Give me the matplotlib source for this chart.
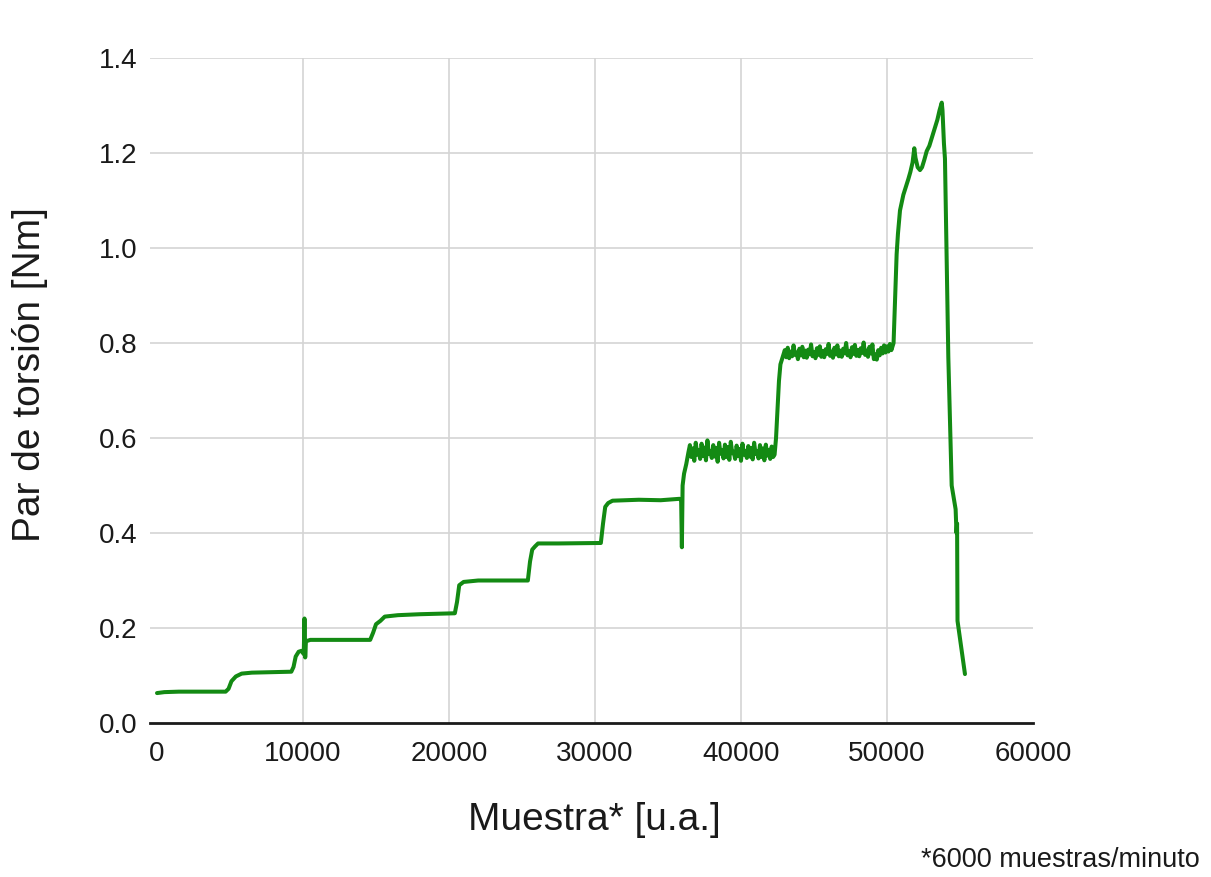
import numpy as np
import matplotlib
matplotlib.use("Agg")
import matplotlib.pyplot as plt

plt.rcParams['font.family'] = ['Liberation Sans', 'DejaVu Sans']

# ---- data ----
# stepped part, explicit (sample, torque) pairs
steps_x = [0, 500, 1500, 3000, 4700, 4900, 5100, 5400, 5800, 6500, 8000, 9200,
           9350, 9500, 9700, 9900, 10050, 10100, 10150, 10200, 10500, 12000, 14600,
           14800, 15000, 15300, 15600, 16500, 18000, 20400, 20550, 20700, 21000,
           22000, 24000, 25400, 25550, 25700, 25900, 26100, 27500, 30400, 30550,
           30700, 30900, 31200, 33000, 34500, 35800, 35900, 35950, 36000, 36100,
           36250, 36400]
steps_y = [0.063, 0.065, 0.066, 0.066, 0.066, 0.072, 0.088, 0.098, 0.104, 0.106, 0.107, 0.108,
           0.118, 0.140, 0.150, 0.152, 0.145, 0.220, 0.138, 0.172, 0.175, 0.175, 0.175,
           0.190, 0.208, 0.215, 0.224, 0.227, 0.229, 0.231, 0.255, 0.290, 0.297,
           0.300, 0.300, 0.300, 0.340, 0.365, 0.372, 0.378, 0.378, 0.379, 0.420,
           0.455, 0.463, 0.468, 0.470, 0.469, 0.472, 0.470, 0.370, 0.500, 0.525,
           0.545, 0.570]

# noisy plateau ~0.57 (one value every 100 samples from 36500)
plateau1_start = 36500
plateau1_y = [0.585, 0.560, 0.578, 0.552, 0.590, 0.565, 0.575, 0.556, 0.588, 0.562,
              0.580, 0.553, 0.595, 0.566, 0.572, 0.558, 0.585, 0.561, 0.579, 0.550,
              0.590, 0.567, 0.574, 0.557, 0.586, 0.560, 0.581, 0.554, 0.592, 0.568,
              0.571, 0.556, 0.584, 0.562, 0.577, 0.552, 0.588, 0.565, 0.573, 0.558,
              0.583, 0.561, 0.579, 0.555, 0.590, 0.566, 0.572, 0.557, 0.585, 0.560,
              0.578, 0.553, 0.586, 0.563, 0.575, 0.556, 0.582, 0.560]

rise1_x = [42300, 42400, 42500, 42600, 42700, 42850]
rise1_y = [0.565, 0.600, 0.660, 0.720, 0.755, 0.770]

# noisy plateau ~0.78 (one value every 100 samples from 43000)
plateau2_start = 43000
plateau2_y = [0.785, 0.770, 0.790, 0.768, 0.782, 0.772, 0.795, 0.775, 0.780, 0.766,
              0.788, 0.774, 0.792, 0.770, 0.784, 0.769, 0.786, 0.776, 0.797, 0.772,
              0.781, 0.768, 0.789, 0.775, 0.793, 0.771, 0.783, 0.770, 0.787, 0.777,
              0.798, 0.773, 0.782, 0.769, 0.790, 0.776, 0.795, 0.772, 0.784, 0.771,
              0.788, 0.778, 0.800, 0.774, 0.783, 0.770, 0.791, 0.777, 0.796, 0.773,
              0.785, 0.772, 0.789, 0.779, 0.801, 0.775, 0.784, 0.771, 0.792, 0.778,
              0.797, 0.766, 0.776, 0.765, 0.785, 0.774, 0.790, 0.778, 0.795, 0.780,
              0.793, 0.782, 0.798, 0.785]

final_x = [50450, 50550, 50660, 50750, 50890, 51120, 51460, 51600, 51750, 51870,
           51950, 52100, 52260, 52400, 52550, 52720, 52900, 53050, 53290, 53450,
           53600, 53750, 53800, 53900, 53970, 54200, 54430, 54700, 54760, 54800,
           54830, 55340]
final_y = [0.800, 0.887, 0.987, 1.030, 1.079, 1.112, 1.145, 1.160, 1.180, 1.210,
           1.190, 1.170, 1.164, 1.170, 1.185, 1.204, 1.215, 1.230, 1.254, 1.270,
           1.290, 1.306, 1.290, 1.220, 1.188, 0.770, 0.500, 0.450, 0.400, 0.420,
           0.215, 0.103]

x_ticks = [0, 10000, 20000, 30000, 40000, 50000, 60000]
y_ticks = [0.0, 0.2, 0.4, 0.6, 0.8, 1.0, 1.2, 1.4]

# ---- assemble series ----
p1_x = plateau1_start + 100 * np.arange(len(plateau1_y))
p2_x = plateau2_start + 100 * np.arange(len(plateau2_y))
xs = np.concatenate([steps_x, p1_x, rise1_x, p2_x, final_x])
ys = np.concatenate([steps_y, plateau1_y, rise1_y, plateau2_y, final_y])

# ---- figure ----
fig = plt.figure(figsize=(12.11, 8.77), dpi=100)
ax = fig.add_axes([150/1211, 1-723/877, (1033-150)/1211, (723-58)/877])

ax.plot(xs, ys, color='#138a13', lw=2.9, solid_joinstyle='round',
        solid_capstyle='round', zorder=3)

ax.set_xlim(-480, 60000)
ax.set_ylim(0, 1.4)
ax.set_xticks(x_ticks)
ax.set_yticks(y_ticks)
ax.set_xticklabels([str(t) for t in x_ticks])
ax.set_yticklabels([f"{t:.1f}" for t in y_ticks])
ax.tick_params(axis='both', length=0, labelsize=20, colors='#1a1a1a')
ax.tick_params(axis='x', pad=13)
ax.tick_params(axis='y', pad=9)

grid_c = '#d4d4d4'
for t in y_ticks[1:]:
    ax.axhline(t, color=grid_c, lw=1.2, zorder=1)
for t in x_ticks[1:-1]:
    ax.axvline(t, color=grid_c, lw=1.2, zorder=1)

for s in ['top', 'right', 'left']:
    ax.spines[s].set_visible(False)
ax.spines['bottom'].set_color('#1a1a1a')
ax.spines['bottom'].set_linewidth(2.0)
ax.spines['bottom'].set_zorder(4)

fig.text(30/1211, 1-375/877, 'Par de torsión [Nm]', rotation=90,
         ha='center', va='center', fontsize=28, color='#1a1a1a')
fig.text(594/1211, 1-820/877, 'Muestra* [u.a.]', ha='center', va='center',
         fontsize=28, color='#1a1a1a')
fig.text(1200/1211, 1-860/877, '*6000 muestras/minuto', ha='right', va='center',
         fontsize=19.5, color='#1a1a1a')

fig.savefig('out.png', dpi=100)
